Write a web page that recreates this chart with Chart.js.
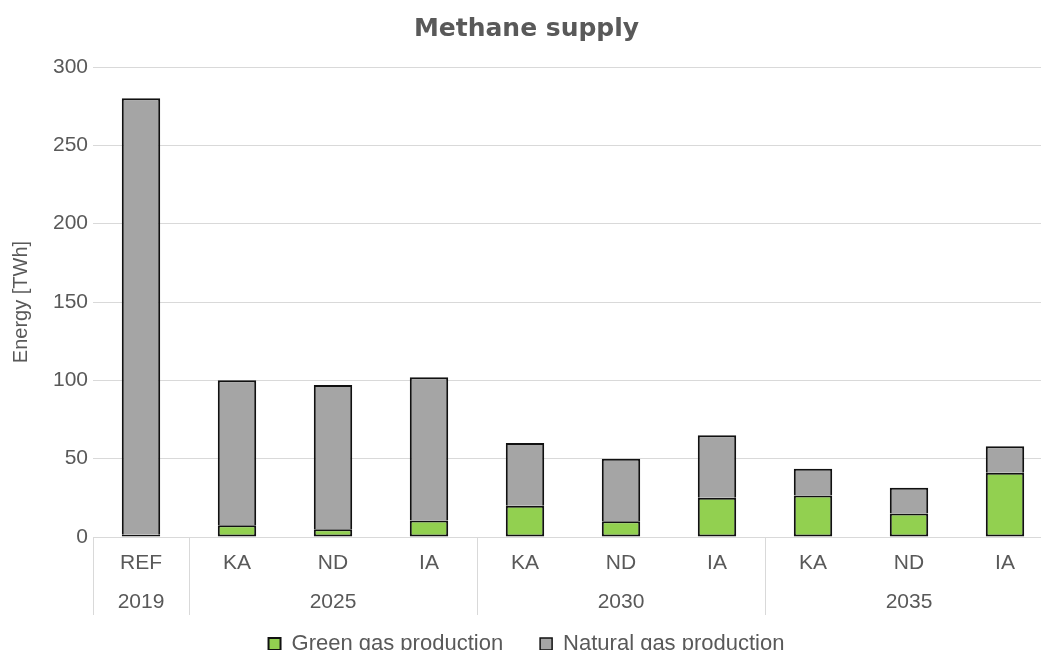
<!DOCTYPE html>
<html>
<head>
<meta charset="utf-8">
<script src="https://cdn.jsdelivr.net/npm/chart.js@4.4.1/dist/chart.umd.min.js"></script>
<style>
  html, body { margin: 0; padding: 0; background: #fff; overflow: hidden; }
  #wrap { width: 1060px; height: 650px; }
</style>
</head>
<body>
<div id="wrap"><canvas id="methane-chart" width="1060" height="650"></canvas></div>
<script>
'use strict';

/*=====Données=================*/
const scenarios = ['REF', 'KA', 'ND', 'IA', 'KA', 'ND', 'IA', 'KA', 'ND', 'IA'];
const yearLabels = ['2019', '2025', '2030', '2035'];
const yearSizes = [1, 3, 3, 3];
const greenGas = [1.5, 7.5, 5, 10.5, 20, 10, 25, 26.5, 15, 41];
const naturalGas = [278.5, 92.5, 92, 91.5, 40, 40, 40, 17, 16.5, 17];
const yTicks = [0, 50, 100, 150, 200, 250, 300];

const textColor = '#595959';
const lineColor = '#d9d9d9';
const fontFamily = '"Liberation Sans", Arial, sans-serif';

/*=====Plugin pour les années et les séparateurs=================*/
const yearGroups = {
  id: 'yearGroups',
  afterDraw(chart) {
    const x = chart.scales.x;
    const c = chart.ctx;
    const top = x.top;
    c.save();
    c.strokeStyle = lineColor;
    c.lineWidth = 1;
    c.fillStyle = textColor;
    c.font = '21px ' + fontFamily;
    c.textAlign = 'center';
    c.textBaseline = 'middle';
    const half = (x.getPixelForValue(1) - x.getPixelForValue(0)) / 2;
    let start = 0;
    yearLabels.forEach((lab, g) => {
      const end = start + yearSizes[g] - 1;
      const left = x.getPixelForValue(start) - half;
      const right = x.getPixelForValue(end) + half;
      c.beginPath();
      c.moveTo(Math.round(left) + 0.5, top);
      c.lineTo(Math.round(left) + 0.5, top + 78);
      c.moveTo(Math.round(right) + 0.5, top);
      c.lineTo(Math.round(right) + 0.5, top + 78);
      c.stroke();
      c.fillText(lab, (left + right) / 2, top + 65);
      start = end + 1;
    });
    c.restore();
  }
};

/*=====Dessiner le graphique=================*/
const ctx = document.getElementById('methane-chart').getContext('2d');

const myBarChart = new Chart(ctx, {
  type: 'bar',
  data: {
    labels: scenarios,
    datasets: [{
      label: 'Green gas production',
      data: greenGas,
      backgroundColor: '#92d050',
      borderColor: '#111111',
      borderWidth: 2,
      borderSkipped: false,
      barPercentage: 0.4,
      categoryPercentage: 1
    }, {
      label: 'Natural gas production',
      data: naturalGas,
      backgroundColor: '#a5a5a5',
      borderColor: '#111111',
      borderWidth: { top: 2, left: 2, right: 2, bottom: 0 },
      borderSkipped: false,
      barPercentage: 0.4,
      categoryPercentage: 1
    }]
  },
  options: {
    responsive: false,
    animation: false,
    layout: { padding: { left: 0, right: 7, top: 0, bottom: -15 } },
    plugins: {
      title: {
        display: true,
        text: 'Methane supply',
        color: textColor,
        font: { family: '"DejaVu Sans", sans-serif', size: 25, weight: 'bold' },
        padding: { top: 14, bottom: 23 }
      },
      legend: {
        position: 'bottom',
        labels: {
          color: textColor,
          font: { family: fontFamily, size: 22 },
          boxWidth: 12,
          boxHeight: 12,
          padding: 37
        }
      },
      tooltip: { enabled: false }
    },
    scales: {
      x: {
        stacked: true,
        grid: { display: false },
        border: { display: true, color: lineColor, width: 1 },
        ticks: {
          color: textColor,
          font: { family: fontFamily, size: 21 },
          padding: 6
        },
        afterFit(scale) { scale.height = 59; }
      },
      y: {
        stacked: true,
        min: 0,
        max: 300,
        afterBuildTicks(scale) { scale.ticks = yTicks.map(v => ({ value: v })); },
        grid: { color: lineColor, drawTicks: false },
        border: { display: false },
        ticks: {
          color: textColor,
          font: { family: fontFamily, size: 21 },
          padding: 5
        },
        title: {
          display: true,
          text: 'Energy [TWh]',
          color: textColor,
          font: { family: fontFamily, size: 20 },
          padding: { top: 9, bottom: 0 }
        },
        afterFit(scale) { scale.width = 93; }
      }
    }
  },
  plugins: [yearGroups]
});
</script>
</body>
</html>
